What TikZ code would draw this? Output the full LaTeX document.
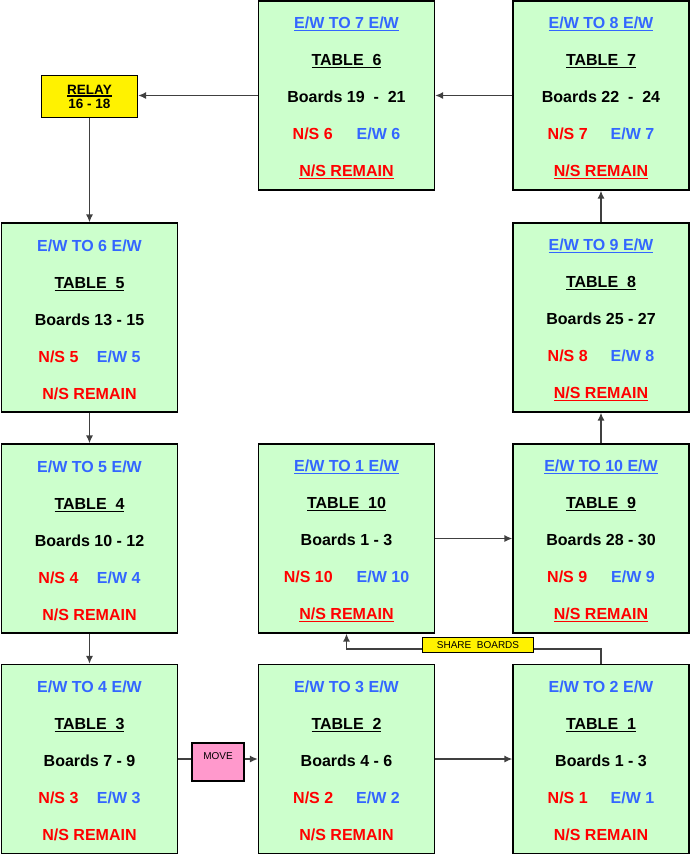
\documentclass[tikz,border=0pt]{standalone}
\usepackage{fontspec}
\setmainfont{Liberation Sans}
\usetikzlibrary{arrows.meta}
\definecolor{cardgreen}{HTML}{CCFFCC}
\definecolor{ewblue}{HTML}{3366FF}
\definecolor{nsred}{HTML}{FF0000}
\definecolor{movepink}{HTML}{FF99CC}
\newcommand\uln[1]{\setbox0\hbox{#1}\rlap{\rule[-2.6pt]{\wd0}{1.3pt}}\box0}
\newcommand\ew[1]{\textcolor{ewblue}{#1}}
\newcommand\ns[1]{\textcolor{nsred}{#1}}
\newcommand\ewu[1]{\textcolor{ewblue}{\uln{#1}}}
\newcommand\nsu[1]{\textcolor{nsred}{\uln{#1}}}
\begin{document}
\begin{tikzpicture}[x=1pt,y=-1pt,
  card/.style={draw,line width=1.2pt,fill=cardgreen,minimum width=176pt,minimum height=189pt,
    align=center,text height=164pt,font=\fontsize{16}{37}\selectfont\bfseries},
  flag/.style={draw,line width=1.2pt,fill=yellow,inner sep=0pt},
  link/.style={draw=black!75,line width=1.4pt,-{Latex[length=8pt,width=7pt]}}]
\useasboundingbox (0,0) rectangle (690,855);
% top row
\node[card] (t6) at (346.5,95.5) {\ewu{E/W TO 7 E/W}\\ \uln{TABLE\ \ 6}\\ Boards 19\ \ -\ \ 21\\
  \ns{N/S 6}\hspace{24pt}\ew{E/W 6}\\ \nsu{N/S REMAIN}};
\node[card] (t7) at (601,95.5) {\ewu{E/W TO 8 E/W}\\ \uln{TABLE\ \ 7}\\ Boards 22\ \ -\ \ 24\\
  \ns{N/S 7}\hspace{23pt}\ew{E/W 7}\\ \nsu{N/S REMAIN}};
\node[flag,minimum width=96pt,minimum height=42pt,align=center,
  font=\fontsize{13.5}{14}\selectfont\bfseries] (relay) at (89.5,96.5) {\uln{RELAY}\\ 16 - 18};
% second row
\node[card] (t5) at (89.5,317.5) {\ew{E/W TO 6 E/W}\\ \uln{TABLE\ \ 5}\\ Boards 13 - 15\\
  \ns{N/S 5}\hspace{18.5pt}\ew{E/W 5}\\ \ns{N/S REMAIN}};
\node[card] (t8) at (601,317.5) {\ewu{E/W TO 9 E/W}\\ \uln{TABLE\ \ 8}\\ Boards 25 - 27\\
  \ns{N/S 8}\hspace{23pt}\ew{E/W 8}\\ \nsu{N/S REMAIN}};
% third row
\node[card] (t4) at (89.5,538.5) {\ew{E/W TO 5 E/W}\\ \uln{TABLE\ \ 4}\\ Boards 10 - 12\\
  \ns{N/S 4}\hspace{18.5pt}\ew{E/W 4}\\ \ns{N/S REMAIN}};
\node[card] (t10) at (346.5,538.5) {\ewu{E/W TO 1 E/W}\\ \uln{TABLE\ \ 10}\\ Boards 1 - 3\\
  \ns{N/S 10}\hspace{24pt}\ew{E/W 10}\\ \nsu{N/S REMAIN}};
\node[card] (t9) at (601,538.5) {\ewu{E/W TO 10 E/W}\\ \uln{TABLE\ \ 9}\\ Boards 28 - 30\\
  \ns{N/S 9}\hspace{24pt}\ew{E/W 9}\\ \nsu{N/S REMAIN}};
% bottom row
\node[card] (t3) at (89.5,759) {\ew{E/W TO 4 E/W}\\ \uln{TABLE\ \ 3}\\ Boards 7 - 9\\
  \ns{N/S 3}\hspace{18.5pt}\ew{E/W 3}\\ \ns{N/S REMAIN}};
\node[card] (t2) at (346.5,759) {\ew{E/W TO 3 E/W}\\ \uln{TABLE\ \ 2}\\ Boards 4 - 6\\
  \ns{N/S 2}\hspace{23pt}\ew{E/W 2}\\ \ns{N/S REMAIN}};
\node[card] (t1) at (601,759) {\ew{E/W TO 2 E/W}\\ \uln{TABLE\ \ 1}\\ Boards 1 - 3\\
  \ns{N/S 1}\hspace{23pt}\ew{E/W 1}\\ \ns{N/S REMAIN}};
\node[flag,fill=movepink,minimum width=52pt,minimum height=38pt,text height=7.5pt,text depth=13.5pt,
  font=\fontsize{10}{12}\selectfont] (move) at (218,762) {MOVE};
% movement
\draw[link] (t7.west) -- (t6.east);
\draw[link] (t6.west) -- (t6.west -| relay.east);
\draw[link] (relay.south) -- (t5.north);
\draw[link] (t5.south) -- (t4.north);
\draw[link] (t4.south) -- (t3.north);
\draw[link,-] (t3.east) -- (t3.east -| move.west);
\draw[link] (move.east |- t2.west) -- (t2.west);
\draw[link] (t2.east) -- (t1.west);
\draw[link] (t10.east) -- (t9.west);
\draw[link] (t9.north) -- (t8.south);
\draw[link] (t8.north) -- (t7.south);
\coordinate (bend) at (478,649);
\draw[link] (t1.north) |- (bend) -| (t10.south);
\node[flag,minimum width=111pt,minimum height=15pt,font=\fontsize{10}{12}\selectfont] (share) at (478,645) {SHARE\ \ BOARDS};
\end{tikzpicture}
\end{document}
